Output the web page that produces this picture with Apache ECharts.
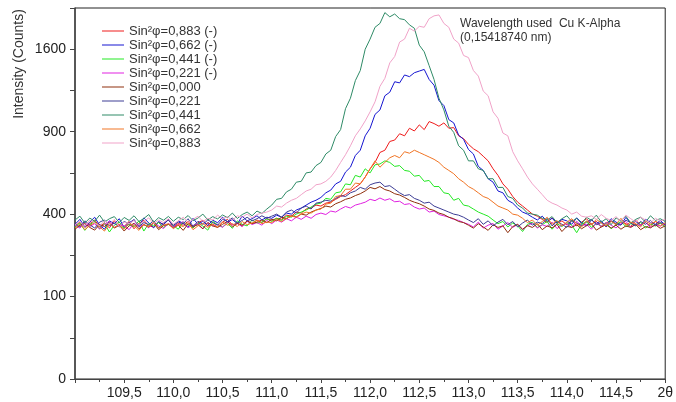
<!DOCTYPE html>
<html>
<head>
<meta charset="utf-8">
<script src="https://cdn.jsdelivr.net/npm/echarts@6/dist/echarts.min.js"></script>
<style>
  html, body { margin: 0; padding: 0; background: #fff; }
  #chart { width: 676px; height: 402px; }
</style>
</head>
<body>
<div id="chart"></div>
<script>
// 2theta sample grid: 109.00 .. 115.00, step 0.05 (121 points)
var twoTheta = [];
for (var i = 0; i <= 120; i++) twoTheta.push(+(109 + i * 0.05).toFixed(2));

var names = ['Sin²φ=0,883 (-)', 'Sin²φ=0,662 (-)', 'Sin²φ=0,441 (-)', 'Sin²φ=0,221 (-)',
    'Sin²φ=0,000', 'Sin²φ=0,221', 'Sin²φ=0,441', 'Sin²φ=0,662', 'Sin²φ=0,883'];
var colors = ['#ee1a1a', '#1414d0', '#22e822', '#e020e0', '#8e2e0c', '#3c3c94', '#2e8a66', '#f07424', '#f0a2c8'];

// intensities (counts)
var sin883m = [345, 362, 338, 355, 372, 341, 358, 336, 368, 350, 343, 365, 332, 357, 370, 346, 339, 361, 352, 374,
    340, 356, 348, 366, 335, 359, 371, 344, 353, 338, 362, 375, 349, 357, 343, 368, 355, 372, 360, 378,
    370, 380, 375, 395, 390, 410, 405, 425, 430, 445, 440, 455, 460, 475, 490, 500, 520, 540, 560, 600,
    650, 690, 755, 770, 830, 840, 885, 870, 925, 905, 950, 915, 975, 960, 940, 965, 925, 930, 870, 850,
    810, 780, 760, 730, 700, 650, 610, 560, 530, 490, 460, 440, 420, 400, 390,
    375, 360, 382, 355, 368, 350, 372, 345, 362, 378, 352, 366, 340, 358, 371, 348, 363, 355, 342, 369,
    351, 360, 344, 365, 356, 349];
var sin662m = [352, 375, 340, 362, 385, 348, 330, 368, 355, 378, 338, 360, 372, 345, 382, 358, 336, 365, 350, 374,
    343, 368, 357, 338, 380, 352, 366, 347, 371, 359, 385, 362, 374, 355, 390, 368, 378, 392, 372, 385,
    380, 395, 385, 405, 400, 420, 430, 445, 460, 470, 485, 510, 525, 560, 575, 630, 660, 735, 770, 870,
    925, 1030, 1065, 1180, 1210, 1300, 1290, 1360, 1345, 1380, 1395, 1410, 1320, 1270, 1140, 1100, 990, 965, 875, 845,
    775, 745, 665, 640, 590, 570, 520, 510, 470, 455, 430, 410, 400, 385,
    372, 390, 365, 380, 358, 375, 368, 352, 382, 360, 345, 372, 356, 368, 340, 378, 362, 350, 384, 358,
    366, 345, 375, 360, 352, 370, 348];
var sin441m = [340, 358, 325, 350, 366, 332, 355, 318, 348, 362, 335, 352, 342, 368, 322, 356, 345, 360, 338, 352,
    346, 330, 362, 350, 337, 358, 344, 326, 365, 350, 340, 356, 334, 368, 352, 345, 372, 358, 362, 378,
    365, 380, 370, 390, 385, 400, 410, 420, 435, 450, 455, 480, 475, 510, 515, 560, 555, 610, 600, 650,
    625, 675, 680, 700, 690, 665, 670, 640, 635, 605, 610, 575, 580, 545, 545, 510, 505, 470, 480, 445,
    440, 425, 410, 400, 390,
    372, 355, 365, 340, 358, 345, 320, 352, 362, 338, 350, 366, 330, 355, 342, 360, 348, 315, 352, 365,
    338, 356, 344, 360, 332, 350, 366, 341, 355, 347, 362, 335, 353, 344, 358, 340];
var sin221m = [348, 335, 360, 342, 355, 330, 352, 366, 338, 350, 345, 328, 358, 340, 352, 336, 362, 345, 333, 356,
    341, 350, 365, 338, 347, 355, 332, 360, 344, 352, 338, 363, 349, 356, 342, 366, 351, 360, 348, 370,
    355, 372, 362, 378, 368, 385, 375, 390, 380, 398, 405, 398, 415, 410, 425, 438, 430, 445, 452, 460,
    475, 468, 482, 470, 478, 462, 465, 448, 452, 435, 425, 430, 410, 415, 398, 392, 385, 375, 370, 360,
    352, 340, 362, 335, 348, 356, 330, 345, 360, 338, 352, 328, 345, 358, 335, 350, 342, 362, 333, 348,
    355, 338, 366, 345, 352, 330, 358, 343, 360, 348, 336, 355, 365, 340, 352, 347, 360, 338, 350, 344, 356];
var sin000 = [330, 348, 355, 338, 326, 352, 342, 360, 335, 348, 322, 345, 356, 332, 350, 340, 358, 328, 346, 352,
    336, 348, 325, 355, 342, 350, 332, 360, 345, 338, 352, 365, 340, 356, 348, 368, 355, 362, 372, 360,
    375, 368, 385, 378, 392, 386, 400, 395, 410, 420, 428, 440, 435, 452, 462, 475, 482, 495, 505, 520,
    540, 532, 545, 528, 520, 505, 498, 485, 470, 460, 452, 440, 425, 418, 405, 398, 385, 378, 365, 360,
    348, 335, 355, 340, 325, 350, 338, 345, 315, 342, 352, 330, 346, 338, 355, 328, 345, 336, 352, 320,
    343, 338, 350, 332, 346, 355, 326, 340, 350, 335, 348, 330, 345, 338, 352, 328, 342, 336, 350, 334, 345];
var sin221 = [355, 340, 368, 350, 335, 362, 372, 345, 358, 340, 366, 352, 375, 342, 360, 350, 368, 336, 358, 372,
    348, 362, 355, 378, 342, 366, 352, 372, 360, 348, 375, 365, 382, 358, 370, 385, 368, 378, 392, 380,
    390, 400, 385, 410, 420, 405, 430, 440, 425, 455, 460, 470, 465, 480, 495, 490, 510, 520, 540, 530,
    555, 565, 570, 545, 550, 530, 510, 495, 500, 480, 470, 455, 460, 440, 430, 420, 410, 400, 395,
    385, 372, 360, 378, 352, 368, 345, 362, 375, 350, 365, 340, 358, 372, 348, 362, 355, 380, 345, 366,
    352, 338, 370, 358, 346, 362, 375, 350, 360, 342, 368, 355, 348, 372, 358, 345, 365, 352, 370, 348, 360, 355];
var sin441 = [372, 390, 358, 381, 366, 395, 362, 378, 388, 360, 384, 370, 392, 365, 379, 398, 361, 383, 371, 389,
    366, 385, 374, 393, 369, 381, 400, 372, 388, 377, 396, 383, 405, 379, 398, 410, 392, 415, 403, 425,
    445, 475, 480, 515, 530, 570, 575, 625, 630, 670, 690, 745, 770, 865, 915, 1075, 1160, 1310, 1400, 1600,
    1700, 1820, 1860, 1975, 1930, 1960, 1910, 1900, 1845, 1810, 1640, 1575, 1445, 1320, 1160, 1065, 940, 895, 800, 770,
    700, 700, 650, 640, 590, 590, 540, 540, 490, 480, 445, 430, 405, 400, 395, 380,
    372, 388, 360, 378, 392, 365, 380, 355, 385, 370, 395, 362, 378, 350, 382, 368, 390, 358, 375, 385,
    362, 392, 370, 378, 365];
var sin662 = [335, 352, 328, 346, 360, 340, 322, 355, 338, 350, 330, 358, 345, 325, 352, 340, 362, 335, 348, 355,
    332, 350, 342, 360, 328, 345, 356, 338, 352, 340, 362, 348, 355, 342, 365, 350, 358, 370, 355, 362,
    360, 375, 365, 380, 390, 385, 400, 410, 405, 420, 425, 450, 455, 490, 495, 530, 530, 565, 560, 600,
    650, 700, 660, 690, 720, 735, 720, 760, 750, 770, 755, 740, 725, 710, 690, 660, 640, 620, 590, 570,
    545, 530, 510, 490, 480, 460, 440, 430, 420, 400, 395,
    380, 360, 372, 348, 365, 385, 352, 370, 345, 362, 378, 355, 340, 368, 350, 375, 358, 345, 365, 352,
    380, 348, 362, 355, 340, 370, 352, 365, 345, 358];
var sin883 = [350, 365, 342, 372, 358, 345, 368, 352, 375, 340, 362, 355, 370, 348, 366, 382, 355, 372, 360, 378,
    352, 368, 385, 360, 375, 390, 365, 380, 372, 395, 378, 388, 370, 392, 385, 400, 382, 398, 405, 410,
    420, 440, 435, 455, 470, 480, 500, 520, 530, 555, 560, 575, 600, 640, 690, 740, 800, 870, 920, 980,
    1050, 1130, 1260, 1330, 1470, 1530, 1670, 1700, 1810, 1780, 1830, 1820, 1910, 1940, 1950, 1860, 1820, 1700, 1660, 1540,
    1520, 1400, 1350, 1220, 1180, 1050, 1000, 890, 870, 760, 700, 650, 600, 560, 530, 500, 470, 455, 445, 430,
    420, 400, 410, 390, 385,
    392, 375, 398, 380, 370, 388, 365, 395, 378, 362, 385, 372, 358, 380, 368, 375];

var allValues = [sin883m, sin662m, sin441m, sin221m, sin000, sin221, sin441, sin662, sin883];

// y axis is square-root scaled: plot sqrt(counts), label ticks back in counts
var yTicks = [0, 100, 400, 900, 1600];

var series = allValues.map(function (vals, k) {
    return {
        name: names[k],
        type: 'line',
        symbol: 'none',
        lineStyle: {width: 1, color: colors[k]},
        itemStyle: {color: colors[k]},
        data: vals.map(function (v, j) { return [twoTheta[j], Math.sqrt(v)]; })
    };
});

var myChart = echarts.init(document.getElementById('chart'));
myChart.setOption({
    animation: false,
    textStyle: {fontFamily: 'Liberation Sans, Arial, sans-serif'},
    grid: {left: 75, right: 8, top: 8, bottom: 23, show: true, borderColor: '#222', borderWidth: 1},
    legend: {
        orient: 'vertical',
        left: 97,
        top: 19,
        icon: 'rect',
        itemWidth: 22,
        itemHeight: 1,
        itemGap: 0,
        textStyle: {fontSize: 13, lineHeight: 14, color: '#333'},
        data: names
    },
    graphic: [
        {
            type: 'text', x: 19, y: 64, rotation: Math.PI / 2,
            style: {text: 'Intensity (Counts)', fontSize: 14, fill: '#333', align: 'center', verticalAlign: 'middle',
                fontFamily: 'Liberation Sans, Arial, sans-serif'}
        },
        {
            type: 'text', x: 460, y: 24,
            style: {text: 'Wavelength used  Cu K-Alpha', fontSize: 12, fill: '#333', verticalAlign: 'middle',
                fontFamily: 'Liberation Sans, Arial, sans-serif'}
        },
        {
            type: 'text', x: 460, y: 38,
            style: {text: '(0,15418740 nm)', fontSize: 12, fill: '#333', verticalAlign: 'middle',
                fontFamily: 'Liberation Sans, Arial, sans-serif'}
        }
    ],
    xAxis: {
        type: 'value',
        min: 109,
        max: 115,
        interval: 0.5,
        axisLine: {lineStyle: {color: '#444'}},
        axisTick: {length: 4, lineStyle: {color: '#444'}},
        minorTick: {show: true, splitNumber: 2, length: 3, lineStyle: {color: '#444'}},
        splitLine: {show: false},
        axisLabel: {
            fontSize: 14, color: '#222', margin: 7,
            formatter: function (v) {
                if (v === 109) return '';
                if (v === 115) return '2θ';
                return v.toFixed(1).replace('.', ',');
            }
        }
    },
    yAxis: {
        type: 'value',
        min: 0,
        max: 45,
        interval: 5,
        axisLine: {show: true, lineStyle: {color: '#444', width: 1.5}},
        axisTick: {show: true, length: 5, lineStyle: {color: '#444'}},
        splitLine: {show: false},
        axisLabel: {
            fontSize: 14, color: '#222', margin: 9,
            formatter: function (v) {
                var c = v * v;
                return yTicks.indexOf(c) >= 0 ? String(c) : '';
            }
        }
    },
    series: series
});
</script>
</body>
</html>
